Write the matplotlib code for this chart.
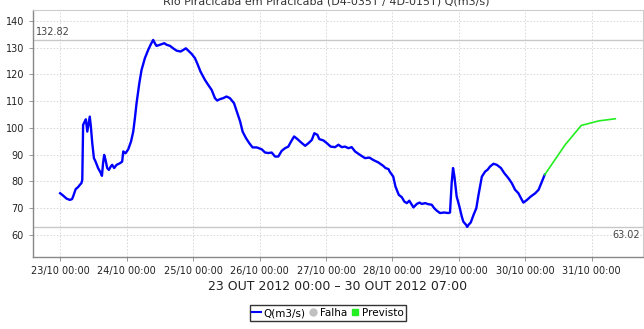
import matplotlib
matplotlib.use("Agg")
import matplotlib.pyplot as plt
import matplotlib.dates as mdates
from matplotlib.lines import Line2D
import pandas as pd

start = pd.Timestamp("2012-10-23 00:00")

# observed discharge, hours after 23/10 00:00 -> Q(m3/s)
obs_hours = [0.0, 1.1, 2.3, 3.5, 4.3, 4.7, 5.6, 6.5, 7.1, 7.7, 8.0, 8.3, 8.7, 9.3, 9.8,
             10.1, 10.7, 11.1, 11.6, 12.2, 12.8, 13.7, 14.7, 15.1, 15.5, 15.9, 16.4, 17.0,
             17.6, 18.3, 18.8, 19.5, 20.4, 21.6, 22.4, 22.8, 23.6, 24.6, 25.6, 26.4, 27.0,
             27.6, 28.6, 29.4, 30.6, 31.8, 32.8, 33.6, 34.2, 34.8, 36.0, 37.6, 38.5, 39.7,
             40.8, 42.1, 43.5, 44.5, 45.4, 46.3, 47.5, 48.7, 49.5, 50.7, 52.3, 53.5, 54.7,
             55.9, 56.7, 57.7, 58.9, 60.1, 61.3, 62.8, 63.8, 65.0, 65.9, 67.1, 68.3, 69.5,
             71.0, 72.8, 74.0, 75.2, 76.4, 77.6, 78.8, 80.0, 81.2, 82.4, 83.4, 84.5, 85.7,
             87.3, 88.5, 89.7, 90.9, 91.8, 92.9, 93.6, 95.1, 96.3, 97.7, 99.3, 100.5, 101.7,
             102.9, 104.1, 105.3, 106.5, 108.3, 110.1, 111.7, 113.1, 114.9, 116.7, 117.5,
             118.6, 119.0, 120.3, 121.1, 122.3, 123.4, 124.3, 125.2, 126.1, 127.0, 127.6,
             128.8, 129.8, 130.6, 131.8, 133.0, 134.2, 135.1, 136.0, 137.2, 138.7, 140.2,
             140.8, 141.4, 141.9, 142.4, 143.2, 144.2, 145.0, 145.6, 146.6, 147.0, 147.5,
             148.3, 149.3, 150.3, 151.1, 152.3, 153.5, 154.3, 155.3, 156.5, 157.7, 159.2,
             160.4, 161.9, 163.1, 164.3, 165.5, 166.4, 167.3, 168.6, 170.0, 171.6, 172.8,
             174.0, 175.0]
obs_q = [75.6, 74.7, 73.6, 73.1, 73.4, 74.4, 77.1, 77.9, 78.7, 79.4, 80.6, 101.1, 102.0, 103.2, 98.6,
         100.5, 104.2, 100.5, 94.3, 88.7, 87.4, 85.0, 83.1, 82.1, 86.8, 89.9, 88.0, 85.0,
         84.3, 85.6, 86.2, 85.0, 86.2, 86.8, 87.4, 91.2, 90.5, 92.0, 94.9, 98.6, 103.6,
         109.2, 116.7, 121.6, 126.0, 129.1, 131.3, 132.82, 131.6, 130.6, 131.0, 131.6, 131.0, 130.6,
         129.7, 128.8, 128.5, 129.1, 129.7, 128.8, 127.6, 126.0, 124.1, 121.0, 117.9, 116.0, 114.2,
         111.1, 110.2, 110.7, 111.1, 111.7, 111.1, 109.2, 106.1, 102.4, 98.6, 96.2, 94.3, 92.7,
         92.7, 92.0, 90.8, 90.6, 90.8, 89.3, 89.3, 91.4, 92.4, 93.0, 94.9, 96.8, 95.8,
         94.3, 93.3, 94.3, 95.5, 98.0, 97.4, 95.8, 95.3, 94.3, 93.0, 92.8, 93.7, 92.8,
         93.0, 92.4, 92.8, 91.2, 89.9, 88.7, 88.9, 88.0, 87.1, 85.8, 85.0,
         84.6, 83.7, 81.8, 78.1, 75.0, 74.1, 72.5, 71.9, 72.8, 71.3, 70.3,
         71.6, 72.1, 71.6, 71.9, 71.5, 71.3, 70.0, 69.1, 68.2, 68.4, 68.2,
         68.4, 79.4, 85.0, 81.8, 74.4, 70.6, 67.1, 65.0, 63.8, 63.02, 63.8,
         64.7, 67.5, 70.0, 75.0, 81.8, 83.7, 84.3, 85.6, 86.6, 86.2, 85.0,
         83.1, 81.2, 79.4, 76.9, 75.6, 73.8, 72.1, 73.1, 74.4, 75.6, 76.9,
         80.0, 82.5]

# forecast
fc_hours = [175.0, 182.4, 188.2, 194.5, 200.5]
fc_q = [82.5, 93.7, 100.9, 102.6, 103.4]

q_max = 132.82
q_min = 63.02

title = "Rio Piracicaba em Piracicaba (D4-035T / 4D-015T) Q(m3/s)"
period = "23 OUT 2012 00:00 \u2013 30 OUT 2012 07:00"
y_ticks = [60, 70, 80, 90, 100, 110, 120, 130, 140]

font = ["Liberation Sans Narrow", "DejaVu Sans"]
plt.rcParams["font.family"] = font

obs_t = [start + pd.Timedelta(hours=h) for h in obs_hours]
fc_t = [start + pd.Timedelta(hours=h) for h in fc_hours]

fig = plt.figure(figsize=(6.44, 3.29), dpi=100)
ax = fig.add_axes([33 / 644, 1 - 256.7 / 329, 610 / 644, 246.7 / 329])

ax.plot(obs_t, obs_q, color="#0000ff", lw=1.7, zorder=3)
ax.plot(fc_t, fc_q, color="#22ee22", lw=1.2, zorder=3)

ax.axhline(q_max, color="#c8c8c8", lw=1.0, zorder=2)
ax.axhline(q_min, color="#c8c8c8", lw=1.0, zorder=2)
ax.text(0.005, q_max + 1.2, f"{q_max:.2f}", transform=ax.get_yaxis_transform(),
        fontsize=7, color="#444444", ha="left", va="bottom")
ax.text(0.995, q_min - 1.2, f"{q_min:.2f}", transform=ax.get_yaxis_transform(),
        fontsize=7, color="#444444", ha="right", va="top")

ax.set_xlim(start - pd.Timedelta(hours=9.8), start + pd.Timedelta(hours=210.5))
ax.set_ylim(51.9, 144.0)
ax.set_yticks(y_ticks)
ax.xaxis.set_major_locator(mdates.DayLocator())
ax.xaxis.set_major_formatter(mdates.DateFormatter("%d/%m %H:%M"))

ax.grid(True, color="#d4d4d4", lw=0.6, linestyle=(0, (2, 2)))
ax.tick_params(labelsize=7, length=3, width=0.6, color="#888888", labelcolor="#222222")
for side in ["top", "right"]:
    ax.spines[side].set_color("#cccccc")
for side in ["left", "bottom"]:
    ax.spines[side].set_color("#888888")
    ax.spines[side].set_linewidth(1.0)

ax.set_xlabel(period, fontsize=9, color="#222222", labelpad=3)

# chart title sits against the top edge of the image
fig.text(326 / 644, 0.995, title, ha="center", va="center", fontsize=8, color="#333333")

handles = [
    Line2D([], [], color="#0000ff", lw=1.5),
    Line2D([], [], color="#c0c0c0", marker="o", ls="none", markersize=5),
    Line2D([], [], color="#22ee22", marker="s", ls="none", markersize=5),
]
leg = fig.legend(handles, ["Q(m3/s)", "Falha", "Previsto"], loc="center",
                 bbox_to_anchor=(328 / 644, 1 - 313 / 329), ncol=3, fontsize=7.5,
                 frameon=True, fancybox=False, handlelength=0.8, handletextpad=0.3,
                 columnspacing=0.3, borderpad=0.25, borderaxespad=0)
leg.get_frame().set_edgecolor("#000000")
leg.get_frame().set_linewidth(1.0)

fig.savefig("out.png", dpi=100)
